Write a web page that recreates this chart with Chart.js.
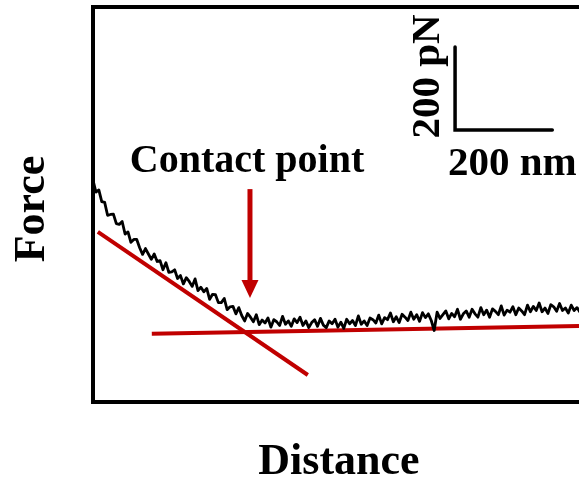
<!DOCTYPE html>
<html>
<head>
<meta charset="utf-8">
<script src="https://cdn.jsdelivr.net/npm/chart.js@4"></script>
<style>
  html, body { margin: 0; padding: 0; background: #fff; overflow: hidden; }
  #wrap { width: 579px; height: 483px; }
</style>
</head>
<body>
<div id="wrap"><canvas id="forceChart" width="579" height="483"></canvas></div>
<script>
// =============== D A T A =================================
// distance sampled every 6 nm, force in pN
const distStep = 6;
const force = [
  534, 505, 510, 482, 480, 449, 451, 452, 429, 427, 434, 404, 409, 384, 391, 391,
  371, 355, 369, 356, 343, 356, 338, 340, 318, 335, 312, 313, 318, 297, 304, 284,
  299, 290, 278, 296, 268, 276, 265, 273, 247, 259, 258, 239, 239, 249, 222, 229,
  230, 212, 227, 208, 195, 213, 204, 193, 210, 186, 197, 190, 202, 180, 198, 193,
  184, 206, 187, 195, 182, 200, 191, 204, 184, 195, 179, 191, 198, 182, 201, 185,
  179, 195, 188, 199, 180, 192, 177, 199, 188, 196, 184, 207, 187, 195, 184, 202,
  198, 190, 209, 188, 203, 198, 214, 193, 205, 191, 211, 204, 196, 216, 199, 210,
  194, 215, 203, 212, 196, 172, 216, 201, 210, 219, 200, 213, 205, 223, 199, 212,
  219, 204, 223, 212, 204, 227, 210, 221, 204, 224, 218, 210, 231, 209, 221, 216,
  229, 210, 226, 219, 210, 233, 217, 230, 220, 238, 217, 226, 213, 234, 229, 218,
  237, 220, 226, 214, 233, 220, 227, 216
];
const distance = force.map((_, i) => i * distStep);

// fitted lines (nm, pN)
const fitApproachX = [10, 442];
const fitApproachY = [409, 65];
const fitBaseX = [121, 1000];
const fitBaseY = [164, 183];

// contact point arrow (nm, pN): tail -> tip
const arrowX = [323, 323];
const arrowY = [512, 250];

// scale bar: corner and lengths
const scaleCorner = [745, 654];
const scaleLen = [200, 200];

const xMax = 1000;
const yMax = 950;

const RED = '#c00000';
const SERIF = '"Liberation Serif", "Times New Roman", serif';

// =============== P L U G I N =================================
const decor = {
  id: 'decor',
  afterDraw(chart) {
    const { ctx, chartArea: a, scales: { x, y } } = chart;
    ctx.save();

    // frame (right side runs off the picture)
    ctx.strokeStyle = '#000';
    ctx.lineWidth = 4;
    ctx.lineCap = 'square';
    ctx.beginPath();
    ctx.moveTo(a.right + 5, a.top);
    ctx.lineTo(a.left, a.top);
    ctx.lineTo(a.left, a.bottom);
    ctx.lineTo(a.right + 5, a.bottom);
    ctx.stroke();

    // arrow
    const ax = x.getPixelForValue(arrowX[0]);
    const ay0 = y.getPixelForValue(arrowY[0]);
    const ay1 = y.getPixelForValue(arrowY[1]);
    ctx.strokeStyle = RED;
    ctx.fillStyle = RED;
    ctx.lineWidth = 5;
    ctx.lineCap = 'butt';
    ctx.beginPath();
    ctx.moveTo(ax, ay0);
    ctx.lineTo(ax, ay1 - 16);
    ctx.stroke();
    ctx.beginPath();
    ctx.moveTo(ax - 8.5, ay1 - 18);
    ctx.lineTo(ax + 8.5, ay1 - 18);
    ctx.lineTo(ax, ay1);
    ctx.closePath();
    ctx.fill();

    // scale bar
    const cx = x.getPixelForValue(scaleCorner[0]);
    const cy = y.getPixelForValue(scaleCorner[1]);
    const ex = x.getPixelForValue(scaleCorner[0] + scaleLen[0]);
    const ey = y.getPixelForValue(scaleCorner[1] + scaleLen[1]);
    ctx.strokeStyle = '#000';
    ctx.lineWidth = 3.5;
    ctx.lineCap = 'round';
    ctx.beginPath();
    ctx.moveTo(cx, ey);
    ctx.lineTo(cx, cy);
    ctx.lineTo(ex, cy);
    ctx.stroke();

    // texts
    ctx.fillStyle = '#000';
    ctx.font = 'bold 41px ' + SERIF;
    ctx.textAlign = 'left';
    ctx.textBaseline = 'alphabetic';
    ctx.fillText('200 nm', cx - 7, cy + 45);

    ctx.save();
    ctx.translate(cx - 16, (cy + ey) / 2 - 12);
    ctx.rotate(-Math.PI / 2);
    ctx.textAlign = 'center';
    ctx.fillText('200 pN', 0, 0);
    ctx.restore();

    ctx.font = 'bold 40px ' + SERIF;
    ctx.textAlign = 'center';
    ctx.fillText('Contact point', 247, 172);

    ctx.font = 'bold 44px ' + SERIF;
    ctx.fillText('Distance', 339, 474);

    ctx.save();
    ctx.translate(44, 209);
    ctx.rotate(-Math.PI / 2);
    ctx.fillText('Force', 0, 0);
    ctx.restore();

    ctx.restore();
  }
};

// =============== C H A R T =================================
const chartCtx = document.getElementById('forceChart');

new Chart(chartCtx, {
  type: 'line',
  data: {
    datasets: [
      {
        label: 'Force curve',
        data: distance.map((d, i) => ({ x: d, y: force[i] })),
        borderColor: '#000',
        borderWidth: 2.8,
        borderJoinStyle: 'round',
        pointRadius: 0,
        tension: 0,
        order: 0
      },
      {
        label: 'Approach fit',
        data: fitApproachX.map((d, i) => ({ x: d, y: fitApproachY[i] })),
        borderColor: RED,
        borderWidth: 4,
        pointRadius: 0,
        order: 1
      },
      {
        label: 'Baseline fit',
        data: fitBaseX.map((d, i) => ({ x: d, y: fitBaseY[i] })),
        borderColor: RED,
        borderWidth: 4,
        pointRadius: 0,
        order: 1
      }
    ]
  },
  options: {
    responsive: false,
    animation: false,
    layout: { padding: { left: 93, top: 7, right: 0, bottom: 81 } },
    plugins: {
      legend: { display: false },
      tooltip: { enabled: false }
    },
    scales: {
      x: { type: 'linear', min: 0, max: xMax, display: false },
      y: { min: 0, max: yMax, display: false }
    }
  },
  plugins: [decor]
});
</script>
</body>
</html>
